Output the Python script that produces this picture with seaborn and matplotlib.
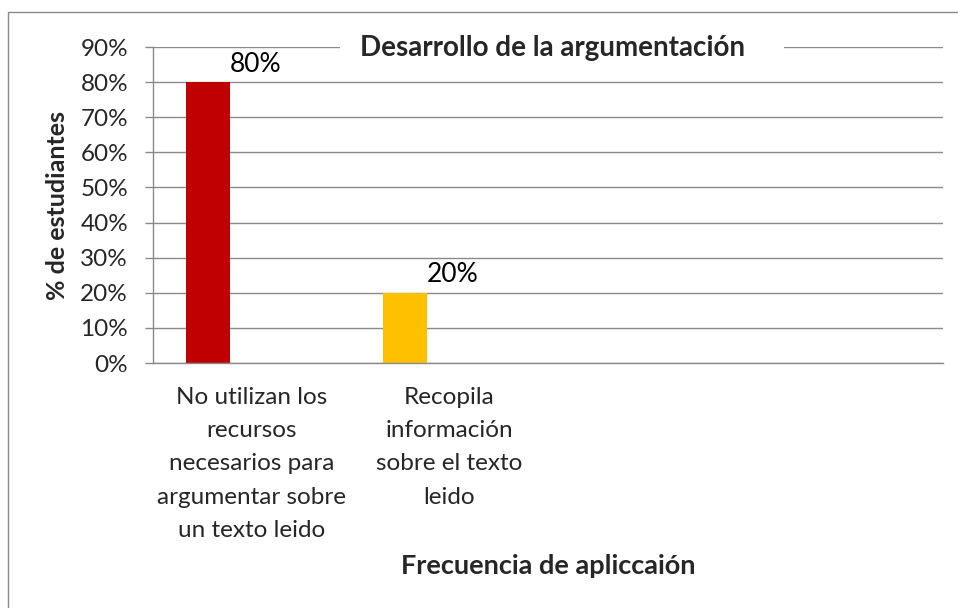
import pandas as pd
import matplotlib
matplotlib.use("Agg")
import matplotlib.pyplot as plt
import matplotlib.ticker as mtick
from matplotlib.patches import Rectangle
import seaborn as sns

# Datos del grafico
categorias = [
    "No utilizan los\nrecursos\nnecesarios para\nargumentar sobre\nun texto leido",
    "Recopila\ninformación\nsobre el texto\nleido",
]
porcentajes = [80, 20]
colores = ["#C00000", "#FFC000"]
# Excel deja dos huecos vacios y tres series por categoria
huecos = ["vacio_3", "vacio_4"]
series = ["Serie 1", "Serie 2", "Serie 3"]

titulo = "Desarrollo de la argumentación"
etiqueta_x = "Frecuencia de apliccaión"
etiqueta_y = "% de estudiantes"

sns.set_style("white")
plt.rcParams['font.family'] = ['Lato', 'DejaVu Sans']

GRIS = "#8a8a8a"
W, H = 958, 608

df = pd.DataFrame({
    "categoria": categorias,
    "porcentaje": porcentajes,
    "serie": [series[0]] * len(categorias),
})

fig = plt.figure(figsize=(W / 100, H / 100), dpi=100)
ax = fig.add_axes([153 / W, 1 - 363 / H, (943 - 153) / W, (363 - 47) / H])

sns.barplot(
    data=df, x="categoria", y="porcentaje", hue="serie",
    order=categorias + huecos, hue_order=series,
    width=2 / 3, gap=0, dodge=True, legend=False, ax=ax,
    errorbar=None, saturation=1,
)

# un color por barra, como en el original
for barra, color in zip(ax.patches, colores):
    barra.set_facecolor(color)
    barra.set_edgecolor("none")

for barra, v in zip(ax.patches, porcentajes):
    ax.annotate(f"{v}%", xy=(barra.get_x() + barra.get_width() / 2, barra.get_height()),
                xytext=(34, 4), textcoords="offset points",
                ha="center", va="bottom", fontsize=19, color="black")

# ejes
ax.set_xlim(-0.5, 3.5)
ax.set_ylim(0, 90)
ax.yaxis.set_major_locator(mtick.MultipleLocator(10))
ax.yaxis.set_major_formatter(mtick.StrMethodFormatter("{x:.0f}%"))
ax.grid(axis="y", color=GRIS, linewidth=1.0)
ax.set_axisbelow(True)

ax.set_xticks(range(len(categorias)))
ax.set_xticklabels(categorias, fontsize=17.5)
for etiqueta in ax.get_xticklabels():
    etiqueta.set_linespacing(1.73)
ax.set_xticks([i - 0.5 for i in range(5)], minor=True)
ax.tick_params(axis="x", which="major", length=0, pad=17)
ax.tick_params(axis="x", which="minor", length=6, width=1, color=GRIS, direction="out")
ax.tick_params(axis="y", length=6, width=1, color=GRIS, labelsize=17.5, pad=12, left=True)

for lado in ["top", "right"]:
    ax.spines[lado].set_visible(False)
for lado in ["left", "bottom"]:
    ax.spines[lado].set_color(GRIS)
    ax.spines[lado].set_linewidth(1.0)

ax.set_xlabel("")
ax.set_ylabel(etiqueta_y, fontsize=18, fontweight="bold", labelpad=8)

# titulo con fondo blanco que corta la linea del 90%
fig.patches.append(Rectangle((340 / W, 1 - 62 / H), (784 - 340) / W, 30 / H,
                             transform=fig.transFigure, facecolor="white",
                             edgecolor="none", zorder=2))
fig.text(552 / W, 1 - 48 / H, titulo, ha="center", va="center",
         fontsize=20, fontweight="bold", zorder=3)

fig.text(548 / W, 1 - 566 / H, etiqueta_x, ha="center", va="center",
         fontsize=19.5, fontweight="bold")

# marco exterior del grafico
fig.patches.append(Rectangle((8 / W, -0.05), 1.0, 1 - 12 / H + 0.05,
                             transform=fig.transFigure, fill=False,
                             edgecolor=GRIS, linewidth=1.0, zorder=4))

fig.savefig("out.png", dpi=100)
